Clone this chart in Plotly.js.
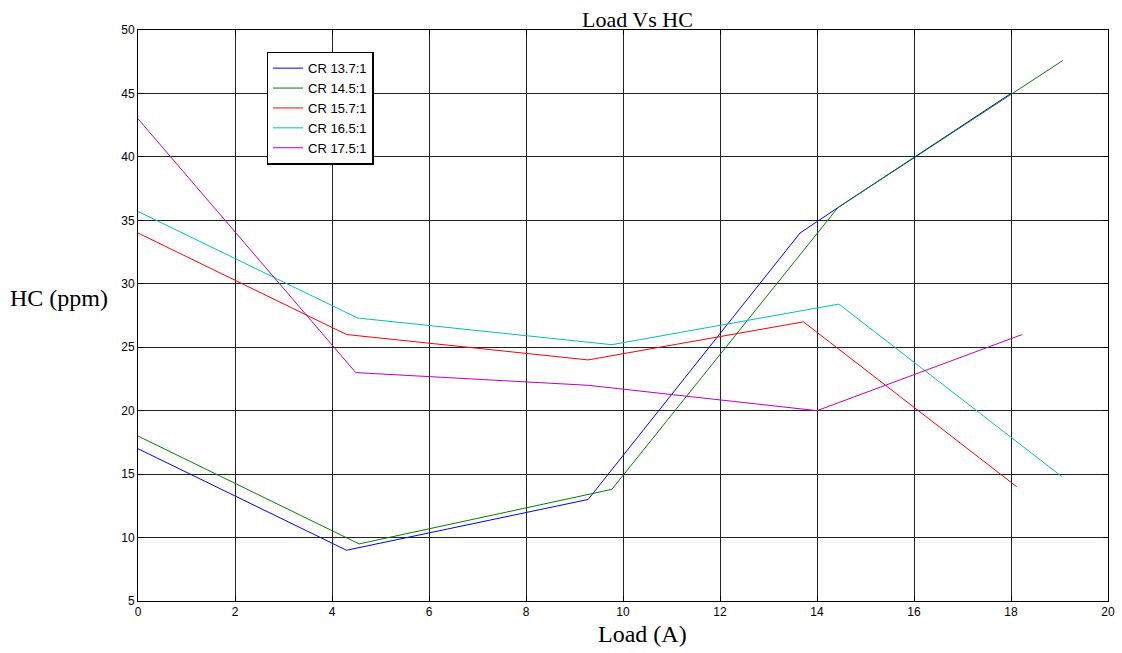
<!DOCTYPE html>
<html>
<head>
<meta charset="utf-8">
<script src="https://cdn.plot.ly/plotly-3.0.1.min.js"></script>
<style>html,body{margin:0;padding:0;background:#fff;}#chart{width:1122px;height:653px;}</style>
</head>
<body>
<div id="chart"></div>
<script>
var seriesNames = ["CR 13.7:1", "CR 14.5:1", "CR 15.7:1", "CR 16.5:1", "CR 17.5:1"];
var seriesColors = ["#0000ff", "#008000", "#ff0000", "#00bfbf", "#bf00bf"];

var loadCR137 = [0, 4.3, 9.28, 13.65, 14.43, 18];
var hcCR137   = [17, 9.0, 13.0, 34.0, 36.0, 45];

var loadCR145 = [0, 4.56, 9.77, 14.43, 19.07];
var hcCR145   = [18, 9.5, 13.8, 36.0, 47.6];

var loadCR157 = [0, 4.3, 9.28, 13.72, 18.12];
var hcCR157   = [34, 26.0, 24.0, 27.0, 14.0];

var loadCR165 = [0, 4.53, 9.77, 14.45, 19.05];
var hcCR165   = [35.7, 27.3, 25.2, 28.4, 14.8];

var loadCR175 = [0, 4.49, 9.28, 14.0, 18.23];
var hcCR175   = [43, 23.0, 22.0, 20.0, 26.0];

var xs = [loadCR137, loadCR145, loadCR157, loadCR165, loadCR175];
var ys = [hcCR137, hcCR145, hcCR157, hcCR165, hcCR175];

var traces = xs.map(function(x, i) {
  return {
    x: x, y: ys[i], type: "scatter", mode: "lines",
    name: seriesNames[i],
    line: {color: seriesColors[i], width: 1}
  };
});

var xTicks = [0, 2, 4, 6, 8, 10, 12, 14, 16, 18, 20];
var yTicks = [5, 10, 15, 20, 25, 30, 35, 40, 45, 50];

var layout = {
  width: 1122, height: 653,
  margin: {l: 138, r: 14, t: 30, b: 52},
  paper_bgcolor: "#ffffff", plot_bgcolor: "#ffffff",
  showlegend: true,
  legend: {
    x: 0.1325, y: 0.962, xanchor: "left", yanchor: "top",
    bgcolor: "#ffffff", bordercolor: "#000000", borderwidth: 1.5,
    font: {family: "Liberation Sans, Arial, sans-serif", size: 13, color: "#000"},
    tracegroupgap: 0
  },
  xaxis: {
    range: [0, 20], tickvals: xTicks, ticktext: xTicks.map(String),
    showgrid: true, gridcolor: "#222222", gridwidth: 1,
    zeroline: false, showline: true, linecolor: "#000", linewidth: 1, mirror: "ticks",
    ticks: "inside", ticklen: 5, tickcolor: "#000",
    tickfont: {family: "Liberation Sans, Arial, sans-serif", size: 12, color: "#000"}
  },
  yaxis: {
    range: [5, 50], tickvals: yTicks, ticktext: yTicks.map(String),
    showgrid: true, gridcolor: "#222222", gridwidth: 1,
    zeroline: false, showline: true, linecolor: "#000", linewidth: 1, mirror: "ticks",
    ticks: "inside", ticklen: 5, tickcolor: "#000",
    tickfont: {family: "Liberation Sans, Arial, sans-serif", size: 12, color: "#000"}
  },
  annotations: [
    {text: "Load Vs HC", xref: "paper", yref: "paper", x: 0.515, y: 1.0, yanchor: "bottom", yshift: -4,
     showarrow: false, font: {family: "Liberation Serif, Times New Roman, serif", size: 22, color: "#000"}},
    {text: "Load (A)", xref: "paper", yref: "paper", x: 0.52, y: 0, yanchor: "top", yshift: -18,
     showarrow: false, font: {family: "Liberation Serif, Times New Roman, serif", size: 24, color: "#000"}},
    {text: "HC (ppm)", xref: "paper", yref: "paper", x: 0, y: 0.53, xanchor: "right", xshift: -28,
     showarrow: false, font: {family: "Liberation Serif, Times New Roman, serif", size: 24, color: "#000"}}
  ]
};

Plotly.newPlot("chart", traces, layout, {displayModeBar: false, staticPlot: true});
</script>
</body>
</html>
